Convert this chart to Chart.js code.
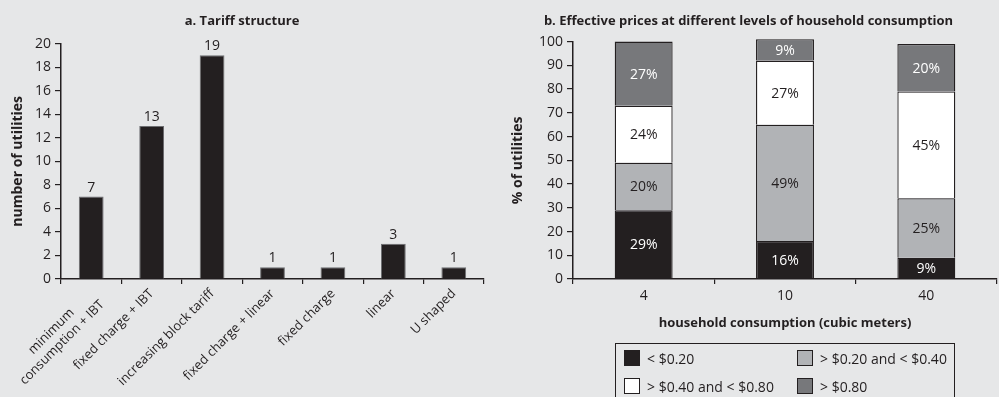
<!DOCTYPE html>
<html>
<head>
<meta charset="utf-8">
<script src="https://cdn.jsdelivr.net/npm/chart.js@4/dist/chart.umd.min.js"></script>
<style>
  body { margin: 0; background: #e6e7e8; width: 999px; height: 397px; overflow: hidden; position: relative; }
  canvas { position: absolute; top: 0; }
  #tariff { left: 0; }
  #prices { left: 500px; }
  #legend {
    position: absolute; left: 615px; top: 343px; width: 340px; height: 70px;
    border: 1.5px solid #231f20; box-sizing: border-box;
    font: 14px "Open Sans", sans-serif; color: #231f20;
  }
  .item { position: absolute; display: flex; align-items: center; height: 16px; }
  .swatch { width: 14px; height: 14px; border: 1px solid #231f20; margin-right: 7px; }
</style>
</head>
<body>
<canvas id="tariff" width="500" height="397"></canvas>
<canvas id="prices" width="499" height="397"></canvas>
<div id="legend"></div>
<script>
const tariffTypes = [["minimum", "consumption + IBT"], "fixed charge + IBT", "increasing block tariff",
  "fixed charge + linear", "fixed charge", "linear", "U shaped"];
const tariffCounts = [7, 13, 19, 1, 1, 3, 1];

const consumptionLevels = ["4", "10", "40"];
const priceBands = ["< $0.20", "> $0.20 and < $0.40", "> $0.40 and < $0.80", "> $0.80"];
const shareBelow020 = [29, 16, 9];
const share020to040 = [20, 49, 25];
const share040to080 = [24, 27, 45];
const shareAbove080 = [27, 9, 20];

const bandColors = ["#231f20", "#b1b3b6", "#ffffff", "#77787b"];
const bandTextColors = ["#ffffff", "#231f20", "#231f20", "#ffffff"];

const FONT = '"Open Sans", sans-serif';
const INK = "#231f20";

Chart.defaults.font.family = FONT;
Chart.defaults.color = INK;

// rotated multi-line labels are right aligned by Chart.js; pad short lines so they sit centred
function centreLines(label, size) {
  if (!Array.isArray(label)) return label;
  const ctx = document.createElement("canvas").getContext("2d");
  ctx.font = size + "px " + FONT;
  const widths = label.map(l => ctx.measureText(l).width);
  const widest = Math.max(...widths);
  const space = ctx.measureText(" ").width;
  return label.map((l, i) => l + " ".repeat(Math.round((widest - widths[i]) / 2 / space)));
}

const valueLabels = {
  id: "valueLabels",
  afterDatasetsDraw(chart) {
    const ctx = chart.ctx;
    ctx.save();
    ctx.font = "14px " + FONT;
    ctx.fillStyle = INK;
    ctx.textAlign = "center";
    ctx.textBaseline = "bottom";
    chart.getDatasetMeta(0).data.forEach((bar, i) => {
      ctx.fillText(chart.data.datasets[0].data[i], bar.x, bar.y - 2);
    });
    ctx.restore();
  }
};

const segmentLabels = {
  id: "segmentLabels",
  afterDatasetsDraw(chart) {
    const ctx = chart.ctx;
    ctx.save();
    ctx.font = "14px " + FONT;
    ctx.textAlign = "center";
    ctx.textBaseline = "middle";
    chart.data.datasets.forEach((ds, d) => {
      ctx.fillStyle = bandTextColors[d];
      chart.getDatasetMeta(d).data.forEach((bar, i) => {
        ctx.fillText(ds.data[i] + "%", bar.x, (bar.y + bar.base) / 2 + 1);
      });
    });
    ctx.restore();
  }
};

function axisGrid(len) {
  return { drawOnChartArea: false, color: INK, tickLength: len, lineWidth: 1.2 };
}

new Chart(document.getElementById("tariff"), {
  type: "bar",
  data: {
    labels: tariffTypes.map(l => centreLines(l, 13)),
    datasets: [{
      data: tariffCounts,
      backgroundColor: INK,
      borderColor: "#6d6e71",
      borderWidth: 1,
      categoryPercentage: 1,
      barPercentage: 0.41
    }]
  },
  options: {
    responsive: false,
    devicePixelRatio: 1,
    animation: false,
    layout: { padding: { left: 0, right: 16, top: 0, bottom: 0 } },
    plugins: {
      legend: { display: false },
      tooltip: { enabled: false },
      title: {
        display: true,
        text: "a. Tariff structure",
        font: { size: 13, weight: "bold" },
        padding: { top: 13, bottom: 15 }
      }
    },
    scales: {
      x: {
        grid: axisGrid(5),
        border: { color: INK, width: 1.5 },
        ticks: { font: { size: 13 }, maxRotation: 45, minRotation: 45, padding: 2, autoSkip: false },
        afterFit: s => { s.height = 118; }
      },
      y: {
        min: 0,
        max: 20,
        grid: axisGrid(6),
        border: { color: INK, width: 1.5 },
        ticks: { stepSize: 2, font: { size: 14 }, padding: 4 },
        title: {
          display: true,
          text: "number of utilities",
          font: { size: 14, weight: "bold" },
          padding: { top: 10, bottom: 0 }
        },
        afterFit: s => { s.width = 61; }
      }
    }
  },
  plugins: [valueLabels]
});

const shares = [shareBelow020, share020to040, share040to080, shareAbove080];

new Chart(document.getElementById("prices"), {
  type: "bar",
  data: {
    labels: consumptionLevels,
    datasets: priceBands.map((band, i) => ({
      label: band,
      data: shares[i],
      backgroundColor: bandColors[i],
      borderColor: INK,
      borderWidth: 1.3,
      categoryPercentage: 1,
      barPercentage: 0.41,
      clip: false
    }))
  },
  options: {
    responsive: false,
    devicePixelRatio: 1,
    animation: false,
    layout: { padding: { left: 0, right: 2, top: 0, bottom: 0 } },
    plugins: {
      legend: { display: false },
      tooltip: { enabled: false },
      title: {
        display: true,
        text: "b. Effective prices at different levels of household consumption",
        font: { size: 13, weight: "bold" },
        padding: { top: 13, bottom: 13 }
      }
    },
    scales: {
      x: {
        stacked: true,
        grid: axisGrid(5),
        border: { color: INK, width: 1.5 },
        ticks: { font: { size: 14 }, padding: 4 },
        title: {
          display: true,
          text: "household consumption (cubic meters)",
          font: { size: 13, weight: "bold" },
          padding: { top: 4, bottom: 66 }
        },
        afterFit: s => { s.height = 118; }
      },
      y: {
        stacked: true,
        min: 0,
        max: 100,
        grid: axisGrid(6),
        border: { color: INK, width: 1.5 },
        ticks: { stepSize: 10, font: { size: 14 }, padding: 4 },
        title: {
          display: true,
          text: "% of utilities",
          font: { size: 14, weight: "bold" },
          padding: { top: 10, bottom: 0 }
        },
        afterFit: s => { s.width = 73; }
      }
    }
  },
  plugins: [segmentLabels]
});

// legend: 2 columns, rows filled left to right
const legend = document.getElementById("legend");
priceBands.forEach((band, i) => {
  const item = document.createElement("div");
  item.className = "item";
  item.style.left = (i % 2 === 0 ? 8 : 181) + "px";
  item.style.top = (i < 2 ? 6 : 34) + "px";
  const sw = document.createElement("span");
  sw.className = "swatch";
  sw.style.background = bandColors[i];
  item.appendChild(sw);
  item.appendChild(document.createTextNode(band));
  legend.appendChild(item);
});
</script>
</body>
</html>
